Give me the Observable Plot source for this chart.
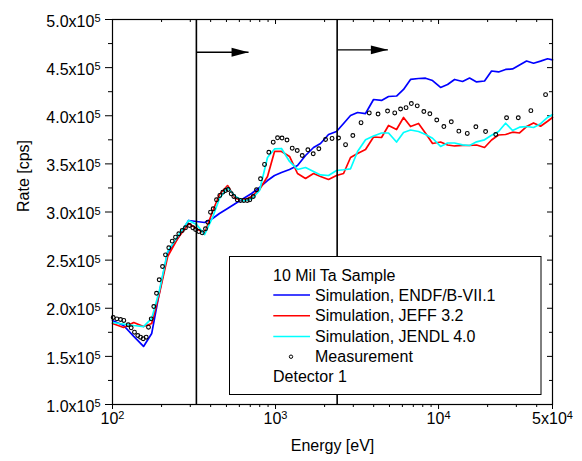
<!DOCTYPE html>
<html><head><meta charset="utf-8">
<script src="https://cdn.jsdelivr.net/npm/d3@7"></script>
<script src="https://cdn.jsdelivr.net/npm/@observablehq/plot@0.6"></script>
<style>
html,body{margin:0;padding:0;background:#fff;}
#chart{position:relative;width:582px;height:461px;}
</style></head><body><div id="chart"></div>
<script>
// ---- data ----
const simEnergy = [100,117,135,155,174,194,218,251,293,328,367,411,453,508,568,636,713,798,893,986,1088,1219,1364,1528,1711,1888,2114,2367,2614,2885,3185,3566,3992,4470,4934,5525,6099,6732,7538,8321,9187,10290,11360,12540,14040,15500,17110,19150,21140,23340,25770,28450,31400,34670,38270,42250,46640,50000];
const endfRate = [187300,182100,170700,160300,173800,216400,257900,272500,291200,290100,289100,293300,298400,303600,308800,314000,319200,325500,332700,337900,341000,344200,348300,358700,367000,371200,380500,383600,392000,400300,403400,402300,416900,415900,420000,420500,427300,437700,438700,439000,436600,429400,432500,437700,435600,439200,435100,436100,446500,445500,448100,448600,452700,456900,454600,456700,459200,458100];
const jeffRate = [184200,180000,185200,181000,184200,215300,253800,272500,288100,282900,277700,300500,318200,327500,314000,312000,316100,323400,336900,362900,362900,357700,340000,334800,340000,336900,333800,337900,340000,356600,360800,364900,377900,377400,389900,385700,398200,388800,392000,381900,371200,372700,369600,368600,369100,369100,369600,367000,374800,380000,380500,382900,382100,388800,392500,389100,394300,398200];
const jendlRate = [185200,183600,182100,181000,189400,218400,259000,274600,291200,287000,276600,294300,314000,325500,316100,311400,313500,322300,356600,365500,366000,352500,344200,346200,342100,338500,337900,343100,343900,344900,362900,375000,379000,382100,382100,372700,382600,385200,383600,380500,376600,368100,371700,371700,369800,369100,372900,375000,379700,383600,392200,384700,388100,388800,387800,391800,398200,401300];
const measEnergy = [101.0,106.3,112.0,117.3,124.8,130.2,136.4,142.9,148.5,154.3,161.0,166.3,172.8,179.2,186.2,193.4,202.7,211.4,221.5,232.4,243.5,255.1,267.7,280.4,296.7,310.9,323.0,338.4,355.1,371.9,384.3,399.2,414.8,434.6,455.2,474.9,493.4,512.7,534.9,554.9,582.2,609.9,639.0,670.4,695.5,729.8,764.6,809.1,856.1,909.8,968.0,1029,1096,1176,1266,1359,1458,1579,1703,1844,2027,2222,2435,2689,2980,3346,3758,4255,4865,5386,5847,6318,6809,7401,8124,8843,9749,10780,11970,13320,15000,16940,19430,22430,26130,30830,36840,45340];
const measRate = [190400,189000,188300,187300,182800,179700,175100,171700,169900,168300,169900,180300,189000,201800,215600,229600,243400,255500,262800,269700,273800,277400,280800,283600,286000,283600,281800,279700,278400,282600,289400,299800,303300,312700,317200,320600,322300,323400,318900,316100,312700,312000,312000,312000,312700,316100,323100,334500,349400,362100,372500,377100,376900,374800,366300,363900,358700,364600,360500,365700,375300,376400,376900,369900,379500,392800,402900,401800,404900,402900,407000,408400,412700,410300,404400,402000,395600,388800,393700,384000,381600,388500,383600,380500,397900,397900,405300,421900];
const markerEnergy = [327, 2388];
const arrowStart = [327, 2388];
const arrowEnd = [683, 4887];
const arrowRate = [466000, 468500];
const xMajor = [100, 1000, 10000, 50000];
const xMinor = [200,300,400,500,600,700,800,900,2000,3000,4000,5000,6000,7000,8000,9000,20000,30000,40000];
const yMajor = [100000,150000,200000,250000,300000,350000,400000,450000,500000];
const yMinor = [125000,175000,225000,275000,325000,375000,425000,475000];
const seriesLabels = ["Simulation, ENDF/B-VII.1", "Simulation, JEFF 3.2", "Simulation, JENDL 4.0", "Measurement"];
const seriesColors = ["#0000ff", "#ff0000", "#00ffff", "#000000"];
const legendTitle = "10 Mil Ta Sample";
const legendFooter = "Detector 1";
const xTitle = "Energy [eV]";
const yTitle = "Rate [cps]";

const FONT = '"Liberation Sans", Arial, Helvetica, sans-serif';
const fmtY = d => (d / 1e5).toFixed(1) + "x10^5";
const fmtX = d => d === 50000 ? "5x10^4" : "10^" + Math.round(Math.log10(d));

const W = 582, H = 461, ML = 112, MR = 30, MT = 19, MB = 57;
const FW = W - ML - MR, FH = H - MT - MB;

const arrowHead = {draw(ctx) { ctx.moveTo(0, 0); ctx.lineTo(-17, -4.4); ctx.lineTo(-17, 4.4); ctx.closePath(); }};
const id = d => d;

const plot = Plot.plot({
  width: W, height: H,
  marginLeft: ML, marginRight: MR, marginTop: MT, marginBottom: MB,
  style: {fontFamily: FONT, fontSize: "16px", background: "#fff", color: "#000", overflow: "visible"},
  x: {type: "log", domain: [100, 50000], axis: null},
  y: {type: "linear", domain: [100000, 500000], axis: null},
  marks: [
    // ticks: bottom/left outward, top/right inward
    Plot.tickX(xMajor, {x: id, insetTop: FH - 5, dy: 5, stroke: "#000"}),
    Plot.tickX(xMinor, {x: id, insetTop: FH - 3, dy: 3, stroke: "#000"}),
    Plot.tickX(xMajor, {x: id, insetBottom: FH - 5, stroke: "#000"}),
    Plot.tickX(xMinor, {x: id, insetBottom: FH - 3, stroke: "#000"}),
    Plot.tickY(yMajor, {y: id, insetRight: FW - 7, dx: -7, stroke: "#000"}),
    Plot.tickY(yMinor, {y: id, insetRight: FW - 4, dx: -4, stroke: "#000"}),
    Plot.tickY(yMajor, {y: id, insetLeft: FW - 5, stroke: "#000"}),
    Plot.tickY(yMinor, {y: id, insetLeft: FW - 3, stroke: "#000"}),
    // tick labels
    Plot.text(xMajor, {x: id, text: fmtX, frameAnchor: "bottom", lineAnchor: "top", dy: 8, fontSize: 16, fill: "#000"}),
    Plot.text(yMajor, {y: id, text: fmtY, frameAnchor: "left", textAnchor: "end", dx: -12, dy: 2, fontSize: 16, fill: "#000"}),
    // titles
    Plot.text([xTitle], {frameAnchor: "bottom", dy: 46, fontSize: 16, fill: "#000"}),
    Plot.text([yTitle], {frameAnchor: "left", rotate: -90, dx: -88.5, fontSize: 16, fill: "#000"}),
    // data
    Plot.line(simEnergy, {x: simEnergy, y: endfRate, stroke: seriesColors[0], strokeWidth: 1.7}),
    Plot.line(simEnergy, {x: simEnergy, y: jeffRate, stroke: seriesColors[1], strokeWidth: 1.7}),
    Plot.line(simEnergy, {x: simEnergy, y: jendlRate, stroke: seriesColors[2], strokeWidth: 1.7}),
    Plot.dot(measEnergy, {x: measEnergy, y: measRate, r: 1.9, stroke: "#000", strokeWidth: 1.1, fill: "none"}),
    Plot.ruleX(markerEnergy, {stroke: "#000", strokeWidth: 1.6}),
    Plot.link(arrowStart, {x1: arrowStart, x2: arrowEnd, y1: arrowRate, y2: arrowRate, stroke: "#000", strokeWidth: 1.3}),
    Plot.dot(arrowEnd, {x: arrowEnd, y: arrowRate, symbol: arrowHead, fill: "#000", stroke: "none"}),
    Plot.frame({stroke: "#000", strokeWidth: 1.2})
  ]
});

// superscripts in tick labels
const NS = "http://www.w3.org/2000/svg";
plot.querySelectorAll("text").forEach(t => {
  const s = t.textContent;
  const i = s.indexOf("^");
  if (i < 0) return;
  t.textContent = "";
  const a = document.createElementNS(NS, "tspan");
  a.textContent = s.slice(0, i);
  const b = document.createElementNS(NS, "tspan");
  b.textContent = s.slice(i + 1);
  b.setAttribute("dy", "-4.5");
  b.setAttribute("font-size", "11");
  t.appendChild(a); t.appendChild(b);
});

// legend box
const svg = d3.select(plot);
const g = svg.append("g").attr("font-family", FONT).attr("font-size", 16).attr("fill", "#000").attr("text-anchor", "start");
g.append("rect").attr("x", 229.5).attr("y", 256.5).attr("width", 311.5).attr("height", 138)
  .attr("fill", "#fff").attr("stroke", "#000").attr("stroke-width", 1);
g.append("text").attr("x", 273).attr("y", 281.4).text(legendTitle);
const rowY = [295, 315.7, 336.5, 356.7];
seriesLabels.forEach((lab, i) => {
  const cy = rowY[i];
  if (i < 3) {
    g.append("line").attr("x1", 273.3).attr("x2", 310).attr("y1", cy).attr("y2", cy)
      .attr("stroke", seriesColors[i]).attr("stroke-width", 1.6);
  } else {
    g.append("circle").attr("cx", 291).attr("cy", cy).attr("r", 1.7)
      .attr("fill", "none").attr("stroke", "#000").attr("stroke-width", 1);
  }
  g.append("text").attr("x", 315).attr("y", cy + 5.7).text(lab);
});
g.append("text").attr("x", 273).attr("y", 382.4).text(legendFooter);

document.getElementById("chart").appendChild(plot);
</script></body></html>
